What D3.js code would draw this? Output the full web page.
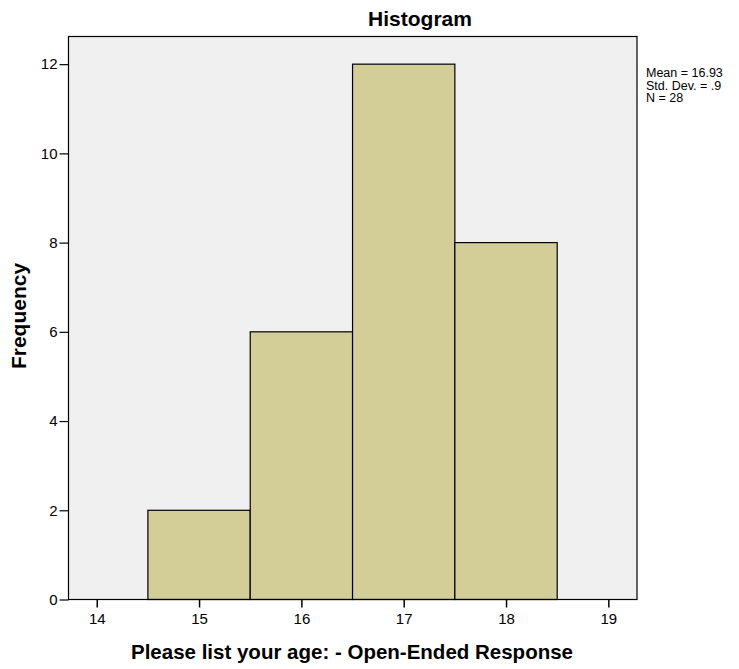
<!DOCTYPE html>
<html><head><meta charset="utf-8">
<script src="https://cdn.jsdelivr.net/npm/d3@7"></script>
<style>body{margin:0;background:#fff}text{font-family:Arial,"Liberation Sans",sans-serif}</style>
</head><body><svg id="c" width="739" height="669"></svg>
<script>
const binStarts = [14.5, 15.5, 16.5, 17.5];
const binEnds = [15.5, 16.5, 17.5, 18.5];
const counts = [2, 6, 12, 8];
const xTicks = [14, 15, 16, 17, 18, 19];
const yTicks = [0, 2, 4, 6, 8, 10, 12];
const stats = ["Mean = 16.93", "Std. Dev. = .9", "N = 28"];

const svg = d3.select("#c");
const L = 68.5, R = 637, T = 36.5, B = 599.5;
const x = d3.scaleLinear().domain([13.724, 19.28]).range([L, R]);
const y = d3.scaleLinear().domain([0, 12.62]).range([B, T]);

svg.append("rect").attr("x", L).attr("y", T).attr("width", R - L).attr("height", B - T)
  .attr("fill", "#f0f0f0");

svg.selectAll(".bar").data(counts).enter().append("rect")
  .attr("x", (d, i) => x(binStarts[i]))
  .attr("width", (d, i) => x(binEnds[i]) - x(binStarts[i]))
  .attr("y", d => y(d)).attr("height", d => y(0) - y(d))
  .attr("fill", "#d3ce98").attr("stroke", "#000").attr("stroke-width", 1.2);

svg.append("rect").attr("x", L).attr("y", T).attr("width", R - L).attr("height", B - T)
  .attr("fill", "none").attr("stroke", "#000").attr("stroke-width", 1.2);

const xa = svg.append("g").attr("transform", `translate(0,${B})`)
  .call(d3.axisBottom(x).tickValues(xTicks).tickFormat(d3.format("d")).tickSize(8).tickSizeOuter(0).tickPadding(6));
xa.select(".domain").remove();
xa.selectAll("line").attr("stroke", "#000").attr("stroke-width", 1.5);
xa.selectAll("text").attr("font-size", 15).attr("fill", "#000").style("font-family", "Arial, 'Liberation Sans', sans-serif");

const ya = svg.append("g").attr("transform", `translate(${L},0)`)
  .call(d3.axisLeft(y).tickValues(yTicks).tickFormat(d3.format("d")).tickSize(9).tickSizeOuter(0).tickPadding(2));
ya.select(".domain").remove();
ya.selectAll("line").attr("stroke", "#000").attr("stroke-width", 1.2);
ya.selectAll("text").attr("font-size", 15).attr("fill", "#000").style("font-family", "Arial, 'Liberation Sans', sans-serif");

svg.append("text").attr("x", 420).attr("y", 26).attr("text-anchor", "middle")
  .attr("font-size", 21).attr("font-weight", "bold").text("Histogram");
svg.append("text").attr("x", 352).attr("y", 659).attr("text-anchor", "middle")
  .attr("font-size", 20.5).attr("font-weight", "bold").text("Please list your age: - Open-Ended Response");
svg.append("text").attr("transform", "translate(26,316) rotate(-90)").attr("text-anchor", "middle")
  .attr("font-size", 21).attr("font-weight", "bold").text("Frequency");

svg.selectAll(".stat").data(stats).enter().append("text")
  .attr("x", 646).attr("y", (d, i) => 77 + i * 12.5)
  .attr("font-size", 12.5).text(d => d);
</script></body></html>
